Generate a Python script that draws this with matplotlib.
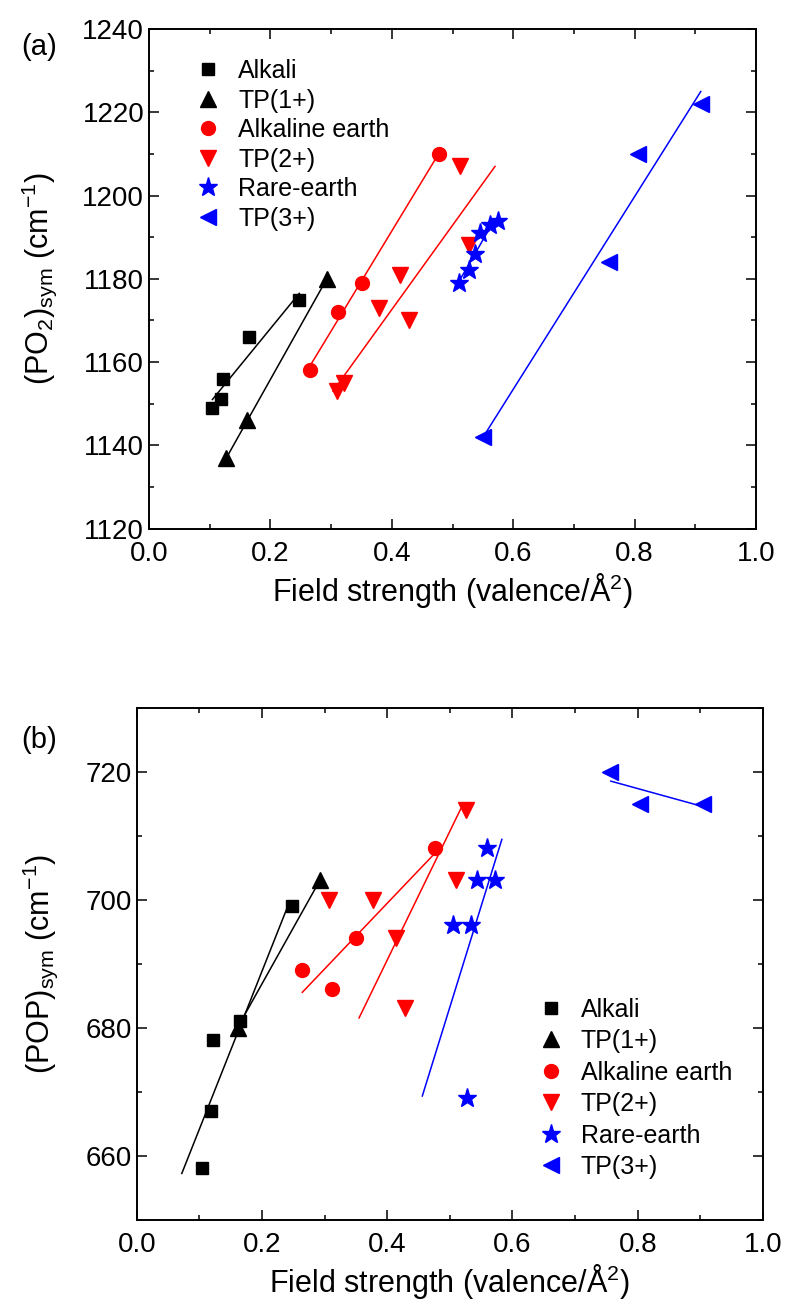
import matplotlib
matplotlib.use('Agg')
import matplotlib.pyplot as plt
from matplotlib.ticker import MultipleLocator, FormatStrFormatter

plt.rcParams['font.family'] = ['Liberation Sans', 'DejaVu Sans']
plt.rcParams['mathtext.fontset'] = 'custom'
plt.rcParams['mathtext.rm'] = 'Liberation Sans'
plt.rcParams['mathtext.it'] = 'Liberation Sans'
plt.rcParams['mathtext.default'] = 'regular'

labels = ['Alkali', 'TP(1+)', 'Alkaline earth', 'TP(2+)', 'Rare-earth', 'TP(3+)']

# panel (a): (PO2)sym
alk_x_a = [0.1045, 0.118, 0.122, 0.165, 0.2475]
alk_y_a = [1149, 1151, 1156, 1166, 1175]
tp1_x_a = [0.1276, 0.1617, 0.293]
tp1_y_a = [1137, 1146, 1180]
ae_x_a = [0.2645, 0.312, 0.3515, 0.4774]
ae_y_a = [1158, 1172, 1179, 1210]
tp2_x_a = [0.31, 0.3207, 0.3795, 0.414, 0.429, 0.512, 0.527]
tp2_y_a = [1153, 1155, 1173, 1181, 1170, 1207, 1188]
re_x_a = [0.5104, 0.527, 0.537, 0.545, 0.5616, 0.5754]
re_y_a = [1179, 1182, 1186, 1191, 1193, 1194]
tp3_x_a = [0.551, 0.757, 0.805, 0.909]
tp3_y_a = [1142, 1184, 1210, 1222]

# fitted lines (end points) for panel (a)
fit_x_a = [[0.1045, 0.2475], [0.1276, 0.293], [0.2645, 0.4774],
           [0.303, 0.57], [0.5104, 0.567], [0.551, 0.909]]
fit_y_a = [[1151, 1176.5], [1137, 1180], [1158.9, 1210.1],
           [1153, 1207], [1179.3, 1193.6], [1142.1, 1225]]

# panel (b): (POP)sym
alk_x_b = [0.104, 0.118, 0.122, 0.165, 0.2475]
alk_y_b = [658, 667, 678, 681, 699]
tp1_x_b = [0.161, 0.2927]
tp1_y_b = [680, 703]
ae_x_b = [0.2644, 0.3123, 0.350, 0.4758]
ae_y_b = [689, 686, 694, 708]
tp2_x_b = [0.3075, 0.378, 0.4135, 0.4284, 0.5098, 0.5258]
tp2_y_b = [700, 700, 694, 683, 703, 714]
re_x_b = [0.5055, 0.527, 0.5338, 0.5438, 0.5598, 0.572]
re_y_b = [696, 669, 696, 703, 708, 703]
tp3_x_b = [0.756, 0.804, 0.904]
tp3_y_b = [720, 715, 715]

fit_x_b = [[0.072, 0.243], [0.161, 0.289], [0.2644, 0.4758],
           [0.355, 0.518], [0.456, 0.583], [0.757, 0.905]]
fit_y_b = [[657.2, 699.4], [680, 702.4], [685.5, 707.2],
           [681.5, 714.3], [669.3, 709.4], [718.5, 714.5]]

colors = ['black', 'black', 'red', 'red', 'blue', 'blue']
markers = ['s', '^', 'o', 'v', '*', '<']
msizes = [9, 11, 10, 11, 14, 11]

fig = plt.figure(figsize=(7.88, 13.04), dpi=100)
ax1 = fig.add_axes([0.1891, 0.5947, 0.7703, 0.3830])
ax2 = fig.add_axes([0.1735, 0.0648, 0.7948, 0.3926])


def draw(ax, xs, ys, fx, fy):
    for i in range(6):
        ax.plot(fx[i], fy[i], '-', color=colors[i], lw=1.1)
    for i in range(6):
        ax.plot(xs[i], ys[i], linestyle='none', marker=markers[i], color=colors[i],
                ms=msizes[i], mec=colors[i], label=labels[i])
    ax.set_xlim(0, 1.0)
    ax.xaxis.set_major_locator(MultipleLocator(0.2))
    ax.xaxis.set_minor_locator(MultipleLocator(0.1))
    ax.xaxis.set_major_formatter(FormatStrFormatter('%.1f'))
    ax.yaxis.set_minor_locator(MultipleLocator(10))
    ax.tick_params(which='both', direction='in', top=True, right=True, labelsize=20, width=1.1)
    ax.tick_params(which='major', length=7)
    ax.tick_params(which='minor', length=3.5)
    ax.tick_params(axis='x', pad=9)
    for s in ax.spines.values():
        s.set_linewidth(1.4)
    ax.set_xlabel('Field strength (valence/Å$^2$)', fontsize=22, labelpad=3)


draw(ax1, [alk_x_a, tp1_x_a, ae_x_a, tp2_x_a, re_x_a, tp3_x_a],
     [alk_y_a, tp1_y_a, ae_y_a, tp2_y_a, re_y_a, tp3_y_a], fit_x_a, fit_y_a)
ax1.set_ylim(1120, 1240)
ax1.yaxis.set_major_locator(MultipleLocator(20))
ax1.set_ylabel('(PO$_2$)$_{sym}$ (cm$^{-1}$)', fontsize=22, labelpad=17)
ax1.legend(loc='upper left', bbox_to_anchor=(0.04, 0.985), frameon=False, fontsize=18,
           handlelength=1.0, handletextpad=0.7, labelspacing=0.22, numpoints=1)
fig.text(0.027, 0.958, '(a)', fontsize=21)

draw(ax2, [alk_x_b, tp1_x_b, ae_x_b, tp2_x_b, re_x_b, tp3_x_b],
     [alk_y_b, tp1_y_b, ae_y_b, tp2_y_b, re_y_b, tp3_y_b], fit_x_b, fit_y_b)
ax2.set_ylim(650, 730)
ax2.set_yticks([660, 680, 700, 720])
ax2.set_ylabel('(POP)$_{sym}$ (cm$^{-1}$)', fontsize=22, labelpad=18)
ax2.legend(loc='lower left', bbox_to_anchor=(0.605, 0.035), frameon=False, fontsize=18,
           handlelength=1.0, handletextpad=0.7, labelspacing=0.3, numpoints=1)
fig.text(0.027, 0.426, '(b)', fontsize=21)

fig.savefig('out.png', dpi=100)
